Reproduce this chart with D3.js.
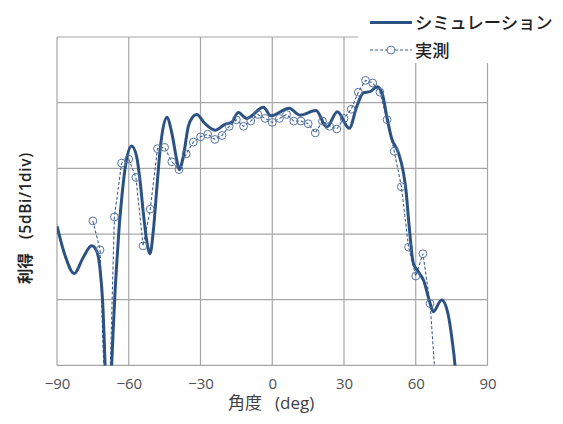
<!DOCTYPE html>
<html><head><meta charset="utf-8">
<script src="https://cdn.jsdelivr.net/npm/d3@7"></script>
<style>body{margin:0;background:#fff;} svg{display:block;}</style>
</head><body>
<svg id="chart" width="563" height="424"></svg>
<script>
// Simulation (deg)
const simDeg = [-90,-86.7,-82.8,-79.1,-75.5,-73.4,-72.0,-70.9,-69.9,-68.7,-67.1,-66.5,-65.7,-65.0,-64.1,-62.9,-61.6,-58.8,-56.7,-55.3,-53.9,-52.5,-51.1,-49.7,-48.3,-46.9,-44.1,-42.0,-40.2,-38.9,-37.2,-35.1,-33.3,-31.6,-28.1,-23.9,-19.8,-17.0,-14.2,-10.7,-3.7,-0.6,7.1,11.6,18.3,22.8,27.2,32.2,35.3,38.1,40.9,43.9,46.1,47.9,49.9,52.7,54.8,55.9,57.2,59.0,61.1,63.2,66.0,67.3,70.8,73.6,75.2,76.4,78.0];
const simGain = [-14.4,-16.6,-18.0,-16.8,-15.9,-16.3,-17.7,-20.2,-25.0,-33,-24.8,-22.3,-19.3,-17.2,-14.7,-12.2,-10.1,-8.3,-9.1,-10.9,-13.4,-15.5,-16.5,-14.7,-11.6,-8.6,-6.1,-7.3,-9.1,-10.1,-9.1,-6.8,-6.1,-5.9,-6.6,-7.1,-6.65,-6.5,-5.75,-6.2,-5.35,-6.0,-5.43,-5.95,-5.6,-6.87,-5.69,-6.95,-5.31,-4.24,-4.16,-3.78,-4.38,-6.07,-7.71,-8.79,-10.28,-11.65,-14.31,-17.23,-17.87,-18.5,-20.27,-20.91,-20.02,-21.16,-23.07,-24.97,-30];
// Measurement (deg)
const measDeg = [-75,-72,-69,-66,-63,-60,-57,-54,-51,-48,-45,-42,-39,-36,-33,-30,-27,-24,-21,-18,-15,-12,-9,-6,-3,0,3,6,9,12,15,18,21,24,27,30,33,36,39,42,45,48,51,54,57,60,63,66,69];
const measGain = [-14.0,-16.2,-33.7,-13.7,-9.6,-9.3,-10.7,-15.9,-13.1,-8.5,-8.4,-9.5,-10.1,-8.9,-8.0,-7.6,-7.4,-7.8,-7.5,-6.8,-6.3,-6.8,-6.4,-5.9,-6.2,-6.5,-6.2,-5.9,-6.4,-6.4,-6.6,-7.3,-6.4,-6.8,-7.0,-6.2,-5.5,-4.2,-3.3,-3.5,-4.2,-6.3,-8.7,-11.4,-16.0,-18.2,-16.5,-20.3,-28.1];
const xTicks = [-90,-60,-30,0,30,60,90];
const yTicks = [-25,-20,-15,-10,-5,0];
const legendLabels = ["シミュレーション","実測"];
const xTitle = ["角度","(deg)"];
const yTitle = ["利得","(5dBi/1div)"];

const svg = d3.select("#chart");
const L = 57, R = 487.5, T = 37, B = 365.4;
const x = d3.scaleLinear().domain([-90,90]).range([L,R]);
const y = d3.scaleLinear().domain([-25,0]).range([B,T]);
const gridColor = "#a6a6a6";
const blue = "#2b5283";

svg.append("defs").append("clipPath").attr("id","clip")
  .append("rect").attr("x",L).attr("y",T).attr("width",R-L).attr("height",B-T);

// gridlines
const g = svg.append("g");
g.selectAll("line.v").data(xTicks).join("line")
  .attr("x1",d=>x(d)).attr("x2",d=>x(d)).attr("y1",T).attr("y2",B)
  .attr("stroke",gridColor).attr("stroke-width",1.2);
g.selectAll("line.h").data(yTicks).join("line")
  .attr("x1",L).attr("x2",R).attr("y1",d=>y(d)).attr("y2",d=>y(d))
  .attr("stroke",gridColor).attr("stroke-width",1.2);

// x axis labels
const xa = svg.append("g").attr("transform",`translate(0,${B})`)
  .call(d3.axisBottom(x).tickValues(xTicks).tickSize(0).tickPadding(13)
    .tickFormat(d=> d<0 ? "\u2212"+Math.abs(d) : String(d)));
xa.select(".domain").remove();
xa.selectAll("text").attr("font-family","'Open Sans', 'Noto Sans', sans-serif").attr("font-size",15).attr("fill","#505050");

const plot = svg.append("g").attr("clip-path","url(#clip)");
const simData = simDeg.map((d,i)=>[d,simGain[i]]);
const measData = measDeg.map((d,i)=>[d,measGain[i]]);

plot.append("path").datum(measData)
  .attr("d", d3.line().x(d=>x(d[0])).y(d=>y(d[1])))
  .attr("fill","none").attr("stroke","#3b5f92").attr("stroke-width",1.1).attr("stroke-dasharray","3,2");
plot.append("path").datum(simData)
  .attr("d", d3.line().x(d=>x(d[0])).y(d=>y(d[1])).curve(d3.curveMonotoneX))
  .attr("fill","none").attr("stroke",blue).attr("stroke-width",3);
plot.selectAll("circle").data(measData).join("circle")
  .attr("cx",d=>x(d[0])).attr("cy",d=>y(d[1])).attr("r",3.9)
  .attr("fill","none").attr("stroke","#5676a3").attr("stroke-width",1);

// legend (white box covering top-right)
svg.append("rect").attr("x",358).attr("y",0).attr("width",205).attr("height",63).attr("fill","#fff");
const lg = svg.append("g");
lg.append("line").attr("x1",370).attr("x2",412).attr("y1",22.5).attr("y2",22.5).attr("stroke",blue).attr("stroke-width",3);
lg.append("line").attr("x1",370).attr("x2",412).attr("y1",50).attr("y2",50).attr("stroke","#3b5f92").attr("stroke-width",1.1).attr("stroke-dasharray","3,2");
lg.append("circle").attr("cx",391).attr("cy",50).attr("r",3.9).attr("fill","#fff").attr("stroke","#5676a3");
lg.selectAll("text").data(legendLabels).join("text")
  .attr("x",415).attr("y",(d,i)=>29+i*27.5)
  .attr("font-family","'Noto Sans CJK JP', sans-serif").attr("font-size",17.3).attr("font-weight",500).attr("fill","#222")
  .text(d=>d);

// x title
const xt = svg.append("text").attr("x",228).attr("y",409)
  .attr("font-family","'Noto Sans CJK JP', sans-serif").attr("font-size",17).attr("fill","#404040");
xt.append("tspan").text(xTitle[0]);
xt.append("tspan").attr("dx",13).attr("font-family","'Open Sans', sans-serif").text(xTitle[1]);

// y title
const yt = svg.append("text").attr("transform","translate(31,284) rotate(-90)")
  .attr("font-family","'Noto Sans CJK JP', sans-serif").attr("font-size",15.5).attr("fill","#222");
yt.append("tspan").attr("font-weight","bold").text(yTitle[0]);
yt.append("tspan").attr("dx",14).attr("font-family","'Open Sans', sans-serif").attr("font-weight",600).attr("letter-spacing",0.6).text(yTitle[1]);
</script>
</body></html>
